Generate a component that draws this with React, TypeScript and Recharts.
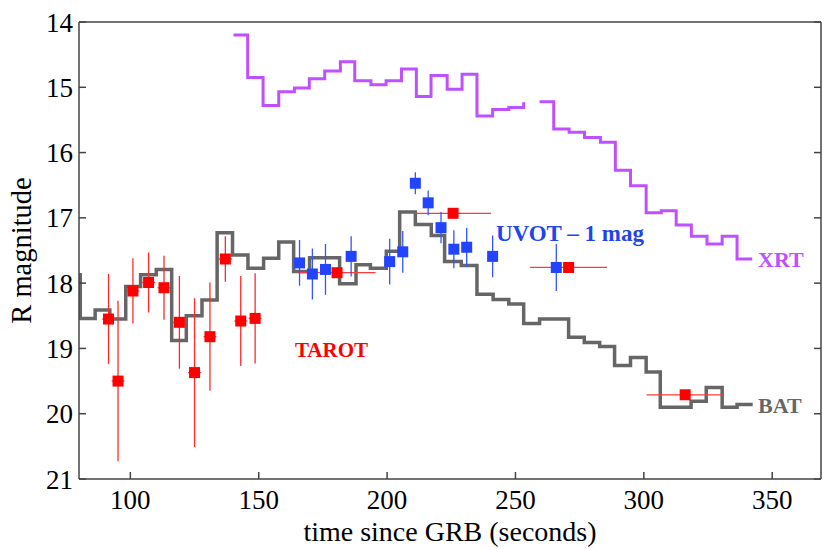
import { ComposedChart, ErrorBar, Line, ReferenceDot, Scatter, XAxis, YAxis } from "recharts"

const FONT = '"Liberation Serif", "Times New Roman", serif'

// axis ticks
const xTicks = [100, 150, 200, 250, 300, 350]
const yTicks = [14, 15, 16, 17, 18, 19, 20, 21]

// BAT light curve, bin start times (s) and magnitudes
const batT = [80, 80.5, 86.3, 92.0, 98.2, 104.0, 110.1, 116.1, 121.8, 127.9, 133.8, 139.8, 145.8, 151.9, 157.8, 163.6, 169.8, 181.5, 187.9, 193.5, 199.7, 204.9, 211.0, 217.2, 222.4, 228.9, 235.0, 241.3, 247.4, 253.2, 259.4, 270.7, 276.8, 282.8, 288.6, 294.8, 300.9, 306.4, 318.4, 324.3, 330.5, 336.3, 342.4]
const batMag = [17.87, 18.54, 18.41, 18.55, 18.05, 17.87, 17.79, 18.88, 18.5, 18.26, 17.23, 17.57, 17.77, 17.62, 17.37, 17.82, 17.61, 18.01, 17.72, 17.77, 17.51, 16.91, 17.1, 17.27, 17.67, 17.73, 18.17, 18.25, 18.32, 18.62, 18.55, 18.83, 18.91, 18.97, 19.26, 19.14, 19.36, 19.9, 19.81, 19.6, 19.9, 19.86, 19.86]

// XRT light curve (null = gap)
const xrtT = [140.2, 145.7, 151.7, 157.8, 163.9, 169.7, 175.7, 181.8, 187.4, 193.7, 199.6, 205.6, 211.4, 217.1, 223.4, 229.2, 235.0, 241.1, 247.4, 253.2, 256.3, 259.4, 264.9, 270.9, 276.9, 283.1, 288.9, 294.8, 300.9, 306.8, 312.6, 318.5, 324.6, 330.5, 336.3, 342.2]
const xrtMag = [14.2, 14.85, 15.28, 15.07, 15.01, 14.87, 14.75, 14.61, 14.9, 14.96, 14.9, 14.72, 15.14, 14.82, 15.03, 14.8, 15.44, 15.34, 15.31, 15.23, null, 15.22, 15.64, 15.69, 15.77, 15.84, 16.27, 16.51, 16.92, 16.89, 17.11, 17.28, 17.4, 17.28, 17.63, 17.63]

// TAROT points
const tarotT = [91.5, 95.2, 101.0, 107.1, 113.1, 119.1, 125.0, 131.0, 137.0, 143.0, 148.6, 180.5, 225.7, 270.7, 316.1]
const tarotMag = [18.55, 19.5, 18.12, 17.99, 18.07, 18.6, 19.37, 18.82, 17.63, 18.58, 18.54, 17.84, 16.93, 17.76, 19.71]
const tarotErrMag = [0.69, 1.23, 0.5, 0.46, 0.49, 0.71, 1.14, 0.83, 0.35, 0.69, 0.69, 0.04, 0.04, 0.04, 0.04]
const tarotErrT = [2.5, 2.5, 2.5, 2.5, 2.5, 2.5, 2.5, 2.5, 2.5, 2.5, 2.5, 15, 14.8, 15, 15]

// UVOT points (shifted by -1 mag)
const uvotT = [165.9, 170.9, 176.0, 186.0, 201.0, 206.1, 211.0, 216.0, 221.0, 226.0, 231.0, 241.1, 265.9]
const uvotMag = [17.69, 17.86, 17.79, 17.59, 17.67, 17.52, 16.47, 16.77, 17.15, 17.48, 17.45, 17.59, 17.76]
const uvotErrMag = [0.35, 0.39, 0.39, 0.31, 0.35, 0.32, 0.17, 0.19, 0.24, 0.29, 0.3, 0.32, 0.36]

// in-plot labels
const noteText = ["XRT", "BAT", "UVOT – 1 mag", "TAROT"]
const noteT = [344.5, 344.5, 242.4, 164.1]
const noteMag = [17.75, 19.99, 17.36, 19.13]
const noteColor = ["#bf50ff", "#666666", "#2244ee", "#ff0000"]
const noteSize = [22, 22, 23, 21]

const bat = batT.map((t, i) => ({ t, m: batMag[i] }))
const xrt = xrtT.map((t, i) => ({ t, m: xrtMag[i] }))
const tarot = tarotT.map((t, i) => ({ t, m: tarotMag[i], ey: tarotErrMag[i], ex: tarotErrT[i] }))
const uvot = uvotT.map((t, i) => ({ t, m: uvotMag[i], ey: uvotErrMag[i] }))

const AXIS = "#444"
const tickStyle = { fontFamily: FONT, fontSize: 27, fill: "#000" }

const square = (color: string) => (p: any) => (
  <rect x={p.cx - 5.5} y={p.cy - 5.5} width={11} height={11} fill={color} />
)

const XTitle = (p: any) => {
  const vb = p.viewBox
  return (
    <text x={vb.x + vb.width / 2} y={vb.y + 62} textAnchor="middle" fontFamily={FONT} fontSize={28} fill="#000">
      time since GRB (seconds)
    </text>
  )
}

const YTitle = (p: any) => {
  const vb = p.viewBox
  const cx = vb.x + 30.5
  const cy = vb.y + vb.height / 2
  return (
    <text x={cx} y={cy} transform={`rotate(-90 ${cx} ${cy})`} textAnchor="middle" fontFamily={FONT} fontSize={28.5} fill="#000">
      R magnitude
    </text>
  )
}

export default function App() {
  return (
    <div style={{ position: "absolute", left: 0, top: 0, width: 830, height: 549, background: "#fff" }}>
      <ComposedChart width={830} height={549} margin={{ top: 12, right: 0, bottom: 0, left: 0 }}>
        <XAxis
          dataKey="t"
          type="number"
          domain={[80, 369]}
          ticks={xTicks}
          allowDataOverflow
          height={70}
          tickSize={-7}
          tickMargin={18}
          tick={tickStyle}
          stroke={AXIS}
          strokeWidth={1.5}
          label={{ content: XTitle }}
        />
        <XAxis
          xAxisId="top"
          orientation="top"
          type="number"
          domain={[80, 369]}
          ticks={xTicks}
          allowDataOverflow
          height={10}
          tickSize={-7}
          tickFormatter={() => ""}
          stroke={AXIS}
          strokeWidth={1.5}
        />
        <YAxis
          dataKey="m"
          type="number"
          domain={[14, 21]}
          ticks={yTicks}
          reversed
          allowDataOverflow
          width={79}
          tickSize={-7}
          tickMargin={13}
          tick={tickStyle}
          stroke={AXIS}
          strokeWidth={1.5}
          label={{ content: YTitle }}
        />
        <YAxis
          yAxisId="right"
          orientation="right"
          type="number"
          domain={[14, 21]}
          ticks={yTicks}
          reversed
          allowDataOverflow
          width={9}
          tickSize={-7}
          tickFormatter={() => ""}
          stroke={AXIS}
          strokeWidth={1.5}
        />

        <Line data={xrt} dataKey="m" type="stepAfter" stroke="#bf50ff" strokeWidth={3} dot={false} connectNulls={false} isAnimationActive={false} />
        <Line data={bat} dataKey="m" type="stepAfter" stroke="#666666" strokeWidth={3.5} dot={false} isAnimationActive={false} />

        <Scatter data={tarot} dataKey="m" shape={square("#ff0000")} isAnimationActive={false}>
          <ErrorBar dataKey="ey" direction="y" width={0} stroke="#ff2a2a" strokeWidth={1.3} isAnimationActive={false} />
          <ErrorBar dataKey="ex" direction="x" width={0} stroke="#ff3a3a" strokeWidth={1.3} isAnimationActive={false} />
        </Scatter>
        <Scatter data={uvot} dataKey="m" shape={square("#2244ff")} isAnimationActive={false}>
          <ErrorBar dataKey="ey" direction="y" width={0} stroke="#3355ff" strokeWidth={1.3} isAnimationActive={false} />
        </Scatter>

        {noteText.map((text, i) => (
          <ReferenceDot
            key={text}
            x={noteT[i]}
            y={noteMag[i]}
            r={0}
            fill="none"
            stroke="none"
            label={{
              content: (p: any) => (
                <text x={p.viewBox.x} y={p.viewBox.y} fontFamily={FONT} fontWeight="bold" fontSize={noteSize[i]} fill={noteColor[i]}>
                  {text}
                </text>
              ),
            }}
          />
        ))}
      </ComposedChart>
    </div>
  )
}
